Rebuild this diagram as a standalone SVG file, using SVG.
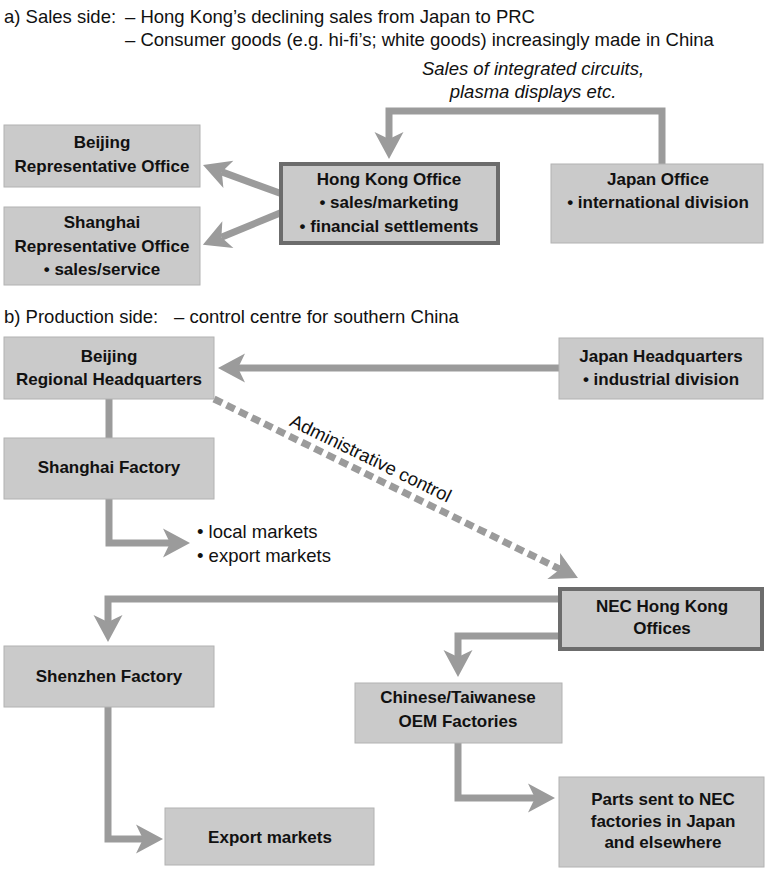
<svg xmlns="http://www.w3.org/2000/svg" width="765" height="869" viewBox="0 0 765 869">
<style>
  .box { fill: #cacaca; stroke: #b2b2b2; stroke-width: 1; }
  .boxd { fill: #cacaca; stroke: #6c6c6c; stroke-width: 4; }
  .bt { font-family: "Liberation Sans", Arial, sans-serif; font-weight: bold; font-size: 17px; fill: #111; text-anchor: middle; }
  .rt { font-family: "Liberation Sans", Arial, sans-serif; font-size: 18.5px; fill: #111; }
  .it { font-family: "Liberation Sans", Arial, sans-serif; font-size: 18.5px; font-style: italic; fill: #111; text-anchor: middle; }
  .con { fill: none; stroke: #9b9b9b; stroke-width: 7; stroke-linejoin: miter; }
  .dash { stroke-dasharray: 9 5; }
</style>
<defs>
  <marker id="ah" markerUnits="userSpaceOnUse" orient="auto" refX="0" refY="0" markerWidth="40" markerHeight="40" overflow="visible">
    <path d="M20,0 L-7,-14.5 L0,0 L-7,14.5 Z" fill="#9b9b9b"/>
  </marker>
</defs>
<rect width="765" height="869" fill="#ffffff"/>

<g id="headers">
  <text class="rt" x="4" y="23">a) Sales side:</text>
  <text class="rt" x="125" y="23">– Hong Kong’s declining sales from Japan to PRC</text>
  <text class="rt" x="125" y="46">– Consumer goods (e.g. hi-fi’s; white goods) increasingly made in China</text>
  <text class="rt" x="4" y="323">b) Production side:</text>
  <text class="rt" x="174" y="323">– control centre for southern China</text>
</g>

<g id="connectors">
  <path class="con" d="M662,164 V111 H389 V139" marker-end="url(#ah)"/>
  <path class="con" d="M285,195 L221.8,171.9" marker-end="url(#ah)"/>
  <path class="con" d="M285,211 L221.4,237.2" marker-end="url(#ah)"/>
  <path class="con" d="M559,368 H238" marker-end="url(#ah)"/>
  <path class="con" d="M109,399 V438"/>
  <path class="con" d="M109,499 V543 H170" marker-end="url(#ah)"/>
  <path class="con dash" d="M214,399 L560,569.2" marker-end="url(#ah)"/>
  <path class="con" d="M558,599 H108 V622" marker-end="url(#ah)"/>
  <path class="con" d="M558,636 H458 V657" marker-end="url(#ah)"/>
  <path class="con" d="M108,707 V839 H143" marker-end="url(#ah)"/>
  <path class="con" d="M458,743 V798 H535" marker-end="url(#ah)"/>
  <text class="it" x="533" y="75">Sales of integrated circuits,</text>
  <text class="it" x="533" y="98">plasma displays etc.</text>
  <text class="rt" x="368" y="464" text-anchor="middle" transform="rotate(26 368 464)">Administrative control</text>
</g>

<g id="beijing-rep-office">
  <rect class="box" x="4" y="125" width="196" height="62"/>
  <text class="bt" x="102" y="148">Beijing</text>
  <text class="bt" x="102" y="172">Representative Office</text>
</g>
<g id="shanghai-rep-office">
  <rect class="box" x="4" y="207" width="196" height="78"/>
  <text class="bt" x="102" y="228">Shanghai</text>
  <text class="bt" x="102" y="252">Representative Office</text>
  <text class="bt" x="102" y="275">• sales/service</text>
</g>
<g id="hong-kong-office">
  <rect class="boxd" x="281" y="164" width="217" height="79"/>
  <text class="bt" x="389" y="185">Hong Kong Office</text>
  <text class="bt" x="389" y="208">• sales/marketing</text>
  <text class="bt" x="389" y="232">• financial settlements</text>
</g>
<g id="japan-office">
  <rect class="box" x="551" y="164" width="212" height="79"/>
  <text class="bt" x="658" y="185">Japan Office</text>
  <text class="bt" x="658" y="208">• international division</text>
</g>
<g id="beijing-regional-hq">
  <rect class="box" x="4" y="337" width="210" height="62"/>
  <text class="bt" x="109" y="362">Beijing</text>
  <text class="bt" x="109" y="385">Regional Headquarters</text>
</g>
<g id="japan-hq">
  <rect class="box" x="559" y="338" width="204" height="61"/>
  <text class="bt" x="661" y="362">Japan Headquarters</text>
  <text class="bt" x="661" y="385">• industrial division</text>
</g>
<g id="shanghai-factory">
  <rect class="box" x="4" y="438" width="210" height="61"/>
  <text class="bt" x="109" y="473">Shanghai Factory</text>
</g>
<g id="markets">
  <text class="rt" x="197" y="538">• local markets</text>
  <text class="rt" x="197" y="562">• export markets</text>
</g>
<g id="nec-hong-kong-offices">
  <rect class="boxd" x="560" y="589" width="202" height="60"/>
  <text class="bt" x="662" y="612">NEC Hong Kong</text>
  <text class="bt" x="662" y="634">Offices</text>
</g>
<g id="shenzhen-factory">
  <rect class="box" x="4" y="646" width="210" height="61"/>
  <text class="bt" x="109" y="682">Shenzhen Factory</text>
</g>
<g id="oem-factories">
  <rect class="box" x="355" y="683" width="207" height="60"/>
  <text class="bt" x="458" y="703">Chinese/Taiwanese</text>
  <text class="bt" x="458" y="727">OEM Factories</text>
</g>
<g id="parts-sent">
  <rect class="box" x="559" y="777" width="205" height="90"/>
  <text class="bt" x="663" y="805">Parts sent to NEC</text>
  <text class="bt" x="663" y="827">factories in Japan</text>
  <text class="bt" x="663" y="848">and elsewhere</text>
</g>
<g id="export-markets">
  <rect class="box" x="165" y="808" width="209" height="57"/>
  <text class="bt" x="270" y="843">Export markets</text>
</g>
</svg>
